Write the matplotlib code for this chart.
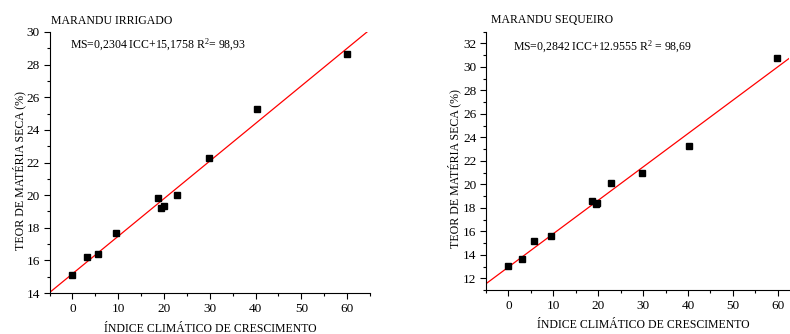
import matplotlib
matplotlib.use("Agg")
import matplotlib.pyplot as plt
import numpy as np
from matplotlib.ticker import MultipleLocator

plt.rcParams['font.family'] = ['Liberation Serif', 'DejaVu Serif']
plt.rcParams['mathtext.fontset'] = 'custom'
plt.rcParams['mathtext.rm'] = 'Liberation Serif'
plt.rcParams['mathtext.it'] = 'Liberation Serif:italic'
plt.rcParams['mathtext.default'] = 'regular'

# Marandu irrigado
icc_irr = [0.0, 3.2, 5.7, 9.5, 18.7, 19.4, 19.9, 22.9, 29.9, 40.3, 59.9]
ms_irr = [15.1, 16.2, 16.4, 17.7, 19.8, 19.2, 19.35, 20.0, 22.25, 25.3, 28.65]
slope_irr, icpt_irr = 0.2304, 15.1758

# Marandu sequeiro
icc_seq = [0.0, 3.1, 5.6, 9.4, 18.6, 19.4, 19.8, 22.8, 29.8, 40.2, 59.8]
ms_seq = [13.05, 13.6, 15.2, 15.6, 18.55, 18.3, 18.4, 20.15, 21.0, 23.25, 30.8]
slope_seq, icpt_seq = 0.2842, 12.9555

xlabel = "ÍNDICE CLIMÁTICO DE CRESCIMENTO"
ylabel = "TEOR DE MATÉRIA SECA (%)"

W, H = 790, 334
fig = plt.figure(figsize=(W / 100, H / 100), dpi=100)


def ftext(x, y, s, **kw):
    fig.text(x / W, 1 - y / H, s, **kw)


def panel(rect, x, y, slope, icpt, xlim, ylim, title, eq,
          title_xy, eq_xy, xlab_xy, ylab_xy):
    ax = fig.add_axes(rect)
    xs = np.array(xlim)
    ax.plot(xs, slope * xs + icpt, color='red', lw=0.9, zorder=2)
    ax.plot(x, y, 's', color='black', ms=4.4, zorder=3)
    ax.set_xlim(*xlim)
    ax.set_ylim(*ylim)
    for s in ('top', 'right'):
        ax.spines[s].set_visible(False)
    for s in ('left', 'bottom'):
        ax.spines[s].set_linewidth(0.8)
    ax.xaxis.set_major_locator(MultipleLocator(10))
    ax.xaxis.set_minor_locator(MultipleLocator(5))
    ax.yaxis.set_major_locator(MultipleLocator(2))
    ax.yaxis.set_minor_locator(MultipleLocator(1))
    ax.tick_params(which='major', direction='out', length=4, width=0.8,
                   labelsize=9.5, pad=3)
    ax.tick_params(which='minor', direction='out', length=2.5, width=0.8)
    ftext(*title_xy, title, fontsize=8.5, va='center', ha='left')
    ftext(*eq_xy, eq, fontsize=8.5, va='center', ha='left')
    ftext(*xlab_xy, xlabel, fontsize=8.5, va='baseline', ha='center')
    ftext(*ylab_xy, ylabel, fontsize=8.6, va='center', ha='center',
          rotation=90)
    return ax


panel([49.5 / W, (H - 293) / H, (370 - 49.5) / W, (293 - 32) / H],
      icc_irr, ms_irr, slope_irr, icpt_irr, (-5, 65), (14, 30),
      "MARANDU IRRIGADO", "MS=0,2304 ICC+15,1758 R$^{2}$= 98,93",
      (51, 20.5), (70, 45), (210.5, 331.5), (19.5, 170))

panel([486 / W, (H - 290) / H, (789 - 486) / W, (290 - 31.7) / H],
      icc_seq, ms_seq, slope_seq, icpt_seq, (-5, 62.5), (11, 33),
      "MARANDU SEQUEIRO", "MS=0,2842 ICC+12.9555 R$^{2}$ = 98,69",
      (491, 20), (513, 47), (643, 328.5), (454, 168))

fig.savefig("out.png", dpi=100)
